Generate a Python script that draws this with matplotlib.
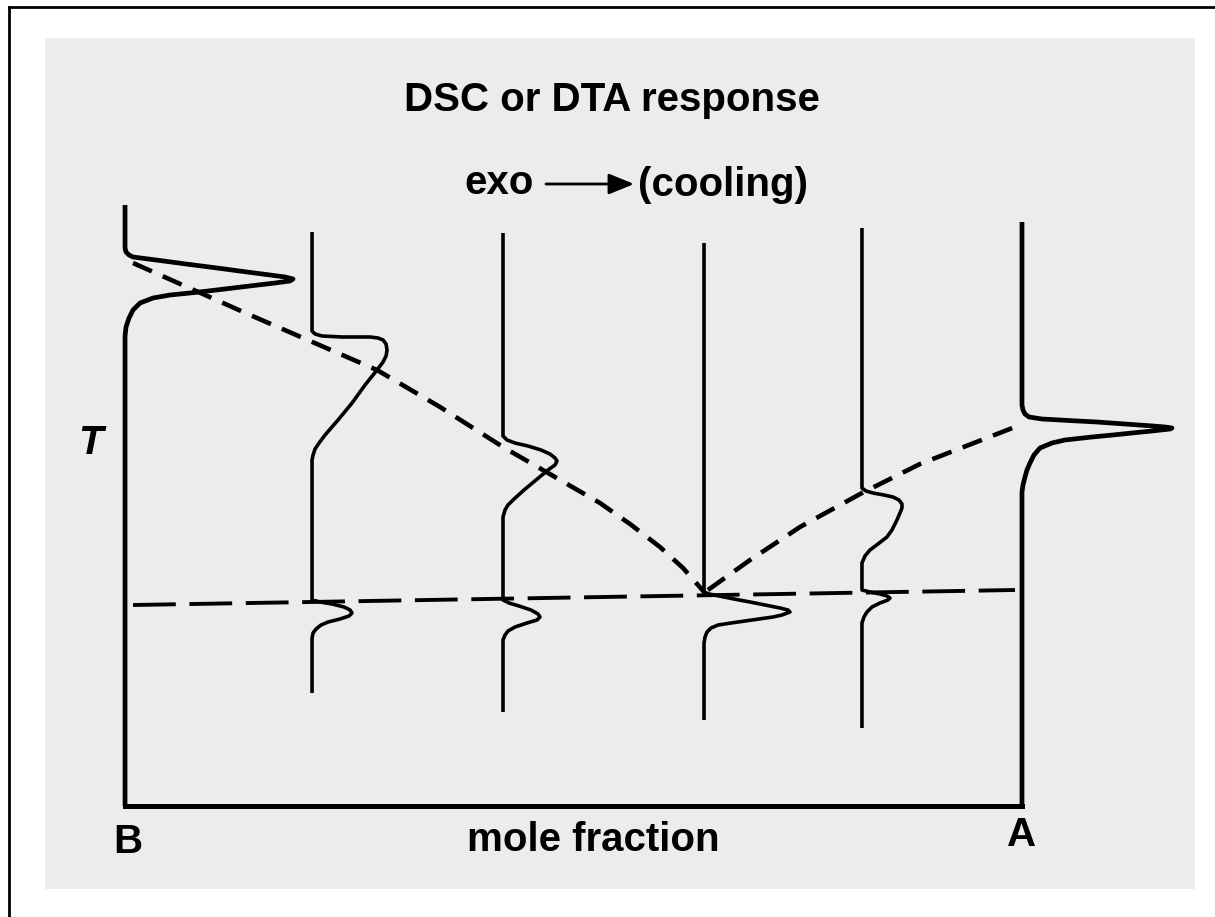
import matplotlib.pyplot as plt
from matplotlib.patches import Rectangle
from matplotlib.lines import Line2D

plt.rcParams['font.family'] = ['Liberation Sans', 'DejaVu Sans']

# composition of each sample (mole fraction of A, B = 0, A = 1)
compositions = [0.0, 0.2085, 0.4214, 0.6455, 0.8216, 1.0]

# DSC/DTA traces: temperature (a.u.) and exo signal (a.u.) for each sample
trace_T = [
    [601, 558, 554, 551, 549, 546, 542, 538, 534, 531, 529, 527, 525, 523, 521, 518,
     515, 513, 511, 508, 503, 496, 488, 479, 470, 0],
    [574, 475, 472, 470, 469, 469, 468, 466, 462, 456, 450, 444, 436, 421, 403, 386,
     371, 363, 357, 351, 346,
     206, 204, 202, 199, 196, 193, 190, 187, 184, 181, 177, 173, 168, 113],
    [573, 370, 366, 363, 360, 356, 352, 348, 345, 341, 336, 326, 316, 306, 301, 296, 289,
     206, 203, 200, 196, 192, 189, 186, 183, 179, 175, 171, 166, 94],
    [563, 214, 212, 210, 207, 204, 201, 198, 196, 194, 191, 189, 187, 185, 183, 181,
     178, 174, 169, 163, 86],
    [578, 318, 315, 313, 311, 309, 306, 302, 298, 293, 286, 276, 269, 262, 256, 250, 243,
     216, 214, 212, 210, 208, 206, 203, 199, 194, 189, 183, 78],
    [584, 401, 396, 392, 389, 387, 386, 385, 384, 383, 382, 381, 380, 379, 378, 377,
     375, 373, 371, 369, 366, 363, 358, 351, 343, 336, 329, 321, 314, 0],
]
trace_signal = [
    [0, 0, 1, 4, 8, 31, 61, 92, 122, 145, 160, 168, 165, 150, 133, 108,
     83, 65, 45, 28, 15, 8, 4, 1, 0, 0],
    [0, 0, 3, 10, 30, 58, 66, 71, 74, 75, 74, 71, 65, 53, 40, 26,
     13, 7, 3, 1, 0,
     0, 8, 20, 32, 38, 40, 37, 28, 16, 9, 4, 1, 0, 0],
    [0, 0, 4, 12, 25, 38, 47, 52, 54, 52, 45, 33, 21, 10, 5, 2, 0,
     0, 6, 16, 28, 35, 37, 34, 24, 12, 5, 2, 0, 0],
    [0, 0, 5, 15, 30, 46, 61, 76, 84, 86, 78, 69, 55, 41, 27, 14,
     7, 3, 1, 0, 0],
    [0, 0, 4, 11, 22, 31, 37, 40, 40, 38, 35, 30, 25, 16, 8, 3, 0,
     0, 8, 18, 25, 28, 26, 18, 10, 5, 2, 0, 0],
    [0, 0, 1, 3, 7, 20, 38, 56, 75, 89, 103, 117, 131, 143, 150, 148,
     130, 110, 91, 70, 43, 30, 18, 12, 8, 5, 3, 1, 0, 0],
]

# liquidus branches and eutectic line (composition, temperature a.u.)
liq_B_x = [0.0089, 0.1394, 0.2809, 0.3512, 0.4214, 0.5295, 0.5630, 0.5964, 0.6221, 0.6466]
liq_B_T = [543, 491, 436, 399, 359, 303, 282, 259, 238, 213]
liq_A_x = [0.6499, 0.6968, 0.7525, 0.8216, 0.8863, 0.9922]
liq_A_T = [216, 246, 279, 313, 342, 379]
eut_x = [0.0089, 0.9922]
eut_T = [201, 216]

signal_scale = 1 / 897.0

fig = plt.figure(figsize=(12.15, 9.17), dpi=100)
ax = fig.add_axes([0, 0, 1, 1])
ax.set_xlim(-0.1394, 1.2152)
ax.set_ylim(-111, 806)
ax.axis('off')

# scanned page: grey panel and partial frame
ax.add_patch(Rectangle((45 / 1215, 1 - 889 / 917), 1150 / 1215, 851 / 917,
                       transform=fig.transFigure, facecolor='#ececec',
                       edgecolor='none', zorder=0))
ax.add_line(Line2D([9 / 1215, 1], [1 - 7 / 917, 1 - 7 / 917],
                   transform=fig.transFigure, color='black', lw=2))
ax.add_line(Line2D([9 / 1215, 9 / 1215], [0, 1 - 7 / 917],
                   transform=fig.transFigure, color='black', lw=2))

for i, x0 in enumerate(compositions):
    xs = [x0 + s * signal_scale for s in trace_signal[i]]
    lw = 3.4 if i in (0, len(compositions) - 1) else 2.6
    ax.plot(xs, trace_T[i], color='black', lw=lw, solid_capstyle='butt',
            solid_joinstyle='round', zorder=3)

# composition axis
ax.plot([compositions[0], compositions[-1]], [0, 0], color='black', lw=3.6,
        solid_capstyle='projecting', zorder=3)

ax.plot(liq_B_x, liq_B_T, color='black', lw=3.3, dashes=(4.5, 2.6), zorder=3)
ax.plot(liq_A_x, liq_A_T, color='black', lw=3.3, dashes=(4.5, 2.6), zorder=3)
ax.plot(eut_x, eut_T, color='black', lw=2.8, dashes=(11, 3.5), zorder=3)

W, H = 1215, 917
bold = dict(fontweight='bold', color='black')
ax.text(612 / W, 1 - 100 / H, 'DSC or DTA response', ha='center', va='center',
        fontsize=29, transform=fig.transFigure, **bold)
ax.text(499 / W, 1 - 183 / H, 'exo', ha='center', va='center', fontsize=29,
        transform=fig.transFigure, **bold)
ax.text(723 / W, 1 - 185 / H, '(cooling)', ha='center', va='center', fontsize=29,
        transform=fig.transFigure, **bold)
ax.annotate('', xy=(634 / W, 1 - 184 / H), xytext=(546 / W, 1 - 184 / H),
            xycoords='figure fraction', textcoords='figure fraction',
            arrowprops=dict(arrowstyle='-|>,head_length=1.1,head_width=0.45',
                            mutation_scale=14, color='black', lw=2,
                            shrinkA=0, shrinkB=0), zorder=4)
ax.text(90 / W, 1 - 443 / H, 'T', ha='center', va='center', fontsize=29,
        fontstyle='italic', transform=fig.transFigure, **bold)
ax.text(128 / W, 1 - 842 / H, 'B', ha='center', va='center', fontsize=29,
        transform=fig.transFigure, **bold)
ax.text(593 / W, 1 - 840 / H, 'mole fraction', ha='center', va='center', fontsize=29,
        transform=fig.transFigure, **bold)
ax.text(1022 / W, 1 - 835 / H, 'A', ha='center', va='center', fontsize=29,
        transform=fig.transFigure, **bold)

fig.savefig('out.png', dpi=100)
